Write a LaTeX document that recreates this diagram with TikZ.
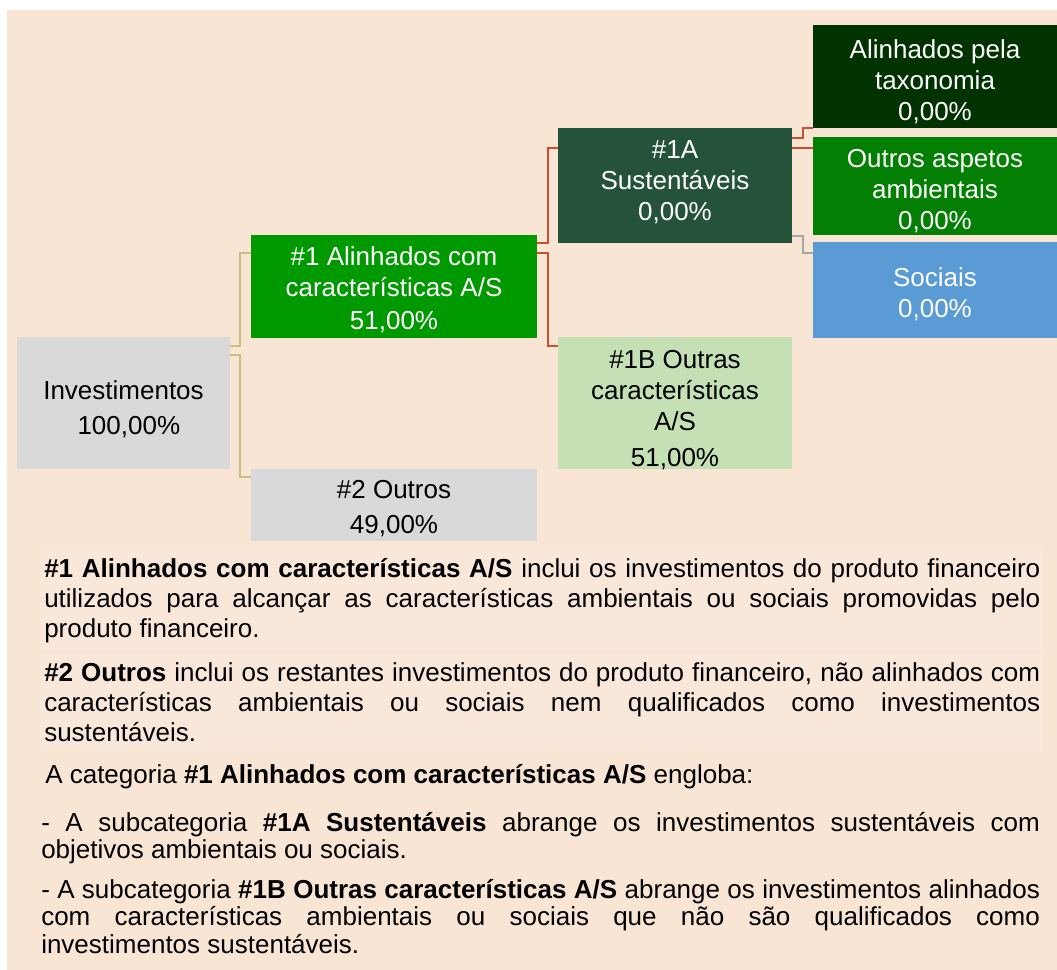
\documentclass[tikz,border=0pt]{standalone}
\usepackage{fontspec}
\setmainfont{Liberation Sans}

\definecolor{peach}{HTML}{F8E5D3}
\definecolor{peachlight}{HTML}{F9E8D9}
\definecolor{boxgrey}{HTML}{D9D9D9}
\definecolor{asgreen}{HTML}{009900}
\definecolor{susgreen}{HTML}{245339}
\definecolor{othgreen}{HTML}{C5E0B4}
\definecolor{taxgreen}{HTML}{003300}
\definecolor{envgreen}{HTML}{038003}
\definecolor{socblue}{HTML}{5B9BD5}
\definecolor{linkkhaki}{HTML}{C8C07E}
\definecolor{linkred}{HTML}{C94F2E}
\definecolor{linkgrey}{HTML}{A6A6A6}

\tikzset{
  box/.style={rectangle, inner sep=0pt, outer sep=0pt, anchor=north west},
  boxtext/.style={align=center, inner sep=0pt, font=\fontsize{19.5}{23.25}\selectfont},
  paratext/.style={anchor=base west, inner sep=0pt, align=justify, font=\fontsize{19.5}{22.5}\selectfont},
  link/.style={line width=1.2pt}
}

\begin{document}
\begin{tikzpicture}[x=0.75pt, y=-0.75pt]

  % Page and background
  \useasboundingbox (0,0) rectangle (1057,970);
  \fill[white] (0,0) rectangle (1057,970);
  \fill[peach] (7,10) rectangle (1057,970);
  \fill[peachlight] (40,548) rectangle (1043,650);
  \fill[peachlight] (40,652) rectangle (1043,751);

  % Boxes
  \node[box, fill=boxgrey, minimum width=159.75pt, minimum height=99pt] (inv) at (17,337) {};
  \node[box, fill=asgreen, minimum width=214.5pt, minimum height=77.25pt] (al) at (251,235) {};
  \node[box, fill=boxgrey, minimum width=214.5pt, minimum height=54pt] (out2) at (251,469) {};
  \node[box, fill=susgreen, minimum width=175.5pt, minimum height=86.25pt] (sus) at (558,128) {};
  \node[box, fill=othgreen, minimum width=175.5pt, minimum height=99pt] (oac) at (558,337) {};
  \node[box, fill=taxgreen, minimum width=183pt, minimum height=77.25pt] (tax) at (813,25) {};
  \node[box, fill=envgreen, minimum width=183pt, minimum height=73.5pt] (amb) at (813,137) {};
  \node[box, fill=socblue, minimum width=183pt, minimum height=72pt] (soc) at (813,242) {};

  % Box texts
  \node[boxtext] (invtext) at ([yshift=-4.5pt]inv.center) {Investimentos\\[3pt]\hspace*{8pt}100,00\%};
  \node[boxtext, white] (altext) at ([yshift=-2.5pt]al.center) {\#1 Alinhados com\\características A/S\\[1.5pt]51,00\%};
  \node[boxtext] (out2text) at ([yshift=-3pt]out2.center) {\#2 Outros\\[3pt]49,00\%};
  \node[boxtext, white] (sustext) at ([yshift=2.25pt]sus.center) {\#1A\\Sustentáveis\\0,00\%};
  \node[boxtext] (oactext) at ([yshift=-5pt]oac.center) {\#1B Outras\\características\\A/S\\[3.75pt]51,00\%};
  \node[boxtext, white] (taxtext) at ([yshift=-3.75pt]tax.center) {Alinhados pela\\taxonomia\\0,00\%};
  \node[boxtext, white] (ambtext) at ([yshift=-4pt]amb.center) {Outros aspetos\\ambientais\\0,00\%};
  \node[boxtext, white] (soctext) at ([yshift=-3.5pt]soc.center) {Sociais\\0,00\%};

  % Links from Investimentos
  \draw[link, linkkhaki] ([yshift=-6.75pt]inv.north east) -- ++(10,0) |- ([yshift=-13.5pt]al.north west);
  \draw[link, linkkhaki] ([yshift=-13.5pt]inv.north east) -- ++(10,0) |- ([yshift=-6pt]out2.north west);

  % Links from #1
  \draw[link, linkred] ([yshift=-6pt]al.north east) -- ++(11,0) |- ([yshift=-15pt]sus.north west);
  \draw[link, linkred] ([yshift=-13.5pt]al.north east) -- ++(11,0) |- ([yshift=-6.75pt]oac.north west);

  % Links from #1A
  \draw[link, linkred] ([yshift=-7.5pt]sus.north east) -- ++(11,0) |- (tax.south west);
  \draw[link, linkred] ([yshift=-15pt]sus.north east) -- ([yshift=-8.25pt]amb.north west);
  \draw[link, linkgrey] ([yshift=5.25pt]sus.south east) -- ++(11,0) |- ([yshift=-8.25pt]soc.north west);

  % Definitions
  \node[paratext, text width=747pt] (def1) at (44,577) {\textbf{\#1 Alinhados com características A/S} inclui os investimentos do produto financeiro\linebreak utilizados para alcançar as características ambientais ou sociais promovidas pelo\linebreak produto financeiro.};
  \node[paratext, text width=747pt] (def2) at (44,681) {\textbf{\#2 Outros} inclui os restantes investimentos do produto financeiro, não alinhados com\linebreak características ambientais ou sociais nem qualificados como investimentos\linebreak sustentáveis.};
  \node[paratext, text width=749pt] (cat) at (45,783) {A categoria \textbf{\#1 Alinhados com características A/S} engloba:};
  \node[paratext, text width=749pt, font=\fontsize{19.5}{20.75}\selectfont] (sub1a) at (41,831) {- A subcategoria \textbf{\#1A Sustentáveis} abrange os investimentos sustentáveis com\linebreak objetivos ambientais ou sociais.};
  \node[paratext, text width=749pt, font=\fontsize{19.5}{20.75}\selectfont] (sub1b) at (41,898) {- A subcategoria \textbf{\#1B Outras características A/S} abrange os investimentos alinhados\linebreak com características ambientais ou sociais que não são qualificados como\linebreak investimentos sustentáveis.};

\end{tikzpicture}
\end{document}
